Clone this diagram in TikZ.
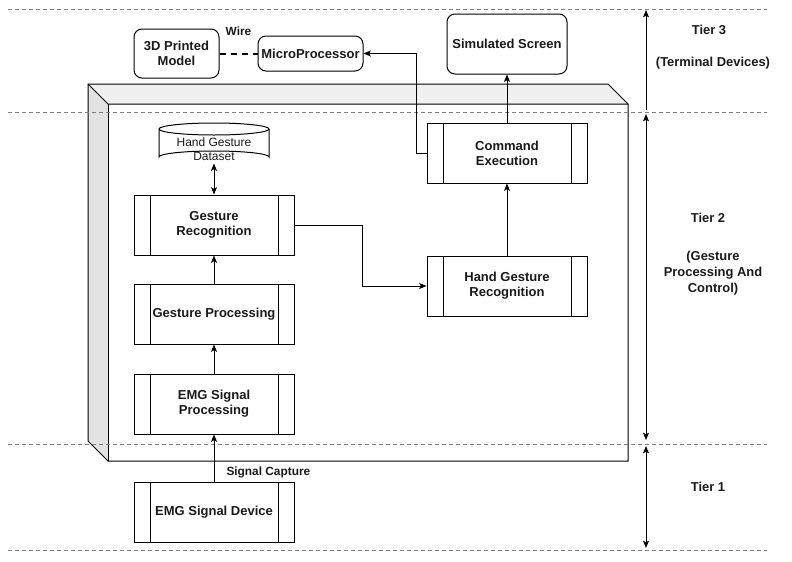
\documentclass[tikz,border=0pt]{standalone}
\usepackage{fontspec}
\setmainfont{Liberation Sans}
\usetikzlibrary{arrows.meta}
\definecolor{tierdash}{HTML}{7F7F7F}
\definecolor{cubetop}{HTML}{F0F0F0}
\definecolor{cubeside}{HTML}{E3E3E3}
\definecolor{txt}{HTML}{1A1A1A}
\begin{document}
\begin{tikzpicture}[x=0.75pt,y=-0.75pt,line width=0.75pt,
  conn/.style={-{Stealth[length=5.5pt,width=4.5pt,inset=1.2pt]}},
  biconn/.style={{Stealth[length=5.5pt,width=4.5pt,inset=1.2pt]}-{Stealth[length=5.5pt,width=4.5pt,inset=1.2pt]}},
  tierdashed/.style={draw=tierdash,line width=0.75pt,dash pattern=on 3pt off 2.25pt},
  procbox/.style={draw,fill=white,minimum width=120pt,minimum height=45pt,inner sep=0pt,
    align=center,text=txt,font=\bfseries\fontsize{9.75}{11.25}\selectfont,
    path picture={
      \draw ([xshift=12pt]path picture bounding box.north west) -- ([xshift=12pt]path picture bounding box.south west);
      \draw ([xshift=-12pt]path picture bounding box.north east) -- ([xshift=-12pt]path picture bounding box.south east);
    }},
  roundbox/.style={draw,fill=white,rounded corners=6pt,inner sep=0pt,align=center,
    text=txt,font=\bfseries\fontsize{9.75}{11.25}\selectfont},
  tierlabel/.style={align=center,text=txt,font=\bfseries\fontsize{9.7}{12}\selectfont},
  smalllabel/.style={text=txt,font=\bfseries\fontsize{8.9}{10}\selectfont,inner sep=0pt}
]
\useasboundingbox (0,0) rectangle (792,561);

% processing cube
\fill[cubeside] (88,84) -- (108,104) -- (108,461) -- (88,441) -- cycle;
\fill[cubetop] (88,84) -- (608,84) -- (628,104) -- (108,104) -- cycle;
\draw (88,84) -- (608,84) -- (628,104) -- (628,461) -- (108,461) -- (88,441) -- cycle;
\draw (88,84) -- (108,104) -- (628,104);
\draw (108,104) -- (108,461);

% tier separators
\draw[tierdashed] (8,9) -- (767,9);
\draw[tierdashed] (8,112) -- (767,112);
\draw[tierdashed] (8,444) -- (767,444);
\draw[tierdashed] (8,550) -- (767,550);

% tier 3 devices
\node[roundbox,minimum width=63.75pt,minimum height=36.75pt] (model) at (176.5,53.5) {3D Printed\\Model};
\node[roundbox,minimum width=78.75pt,minimum height=26.25pt] (micro) at (310.5,53.5) {MicroProcessor};
\node[roundbox,minimum width=90pt,minimum height=45pt] (screen) at (507,44) {Simulated Screen};

% tier 2 processing
\node[procbox] (grec) at (214,225) {Gesture\\Recognition};
\node[procbox] (gproc) at (214,314) {Gesture Processing};
\node[procbox] (emgproc) at (214,404) {EMG Signal\\Processing};
\node[procbox] (hgrec) at (507,286) {Hand Gesture\\Recognition};
\node[procbox] (cmd) at (507,153) {Command\\Execution};

% dataset cylinder
\node[minimum width=82.5pt,minimum height=30pt,inner sep=0pt] (db) at (214,143) {};
\draw[fill=white] (159,129) -- (159,157) arc[start angle=180,end angle=360,x radius=55,y radius=6] -- (269,129);
\draw[fill=white] (214,129) ellipse[x radius=55,y radius=6];
\node[align=center,text=txt,font=\fontsize{9}{10.5}\selectfont,inner sep=0pt] (dbtext) at (214,149) {Hand Gesture\\Dataset};

% tier 1 device
\node[procbox] (emgdev) at (214,512) {EMG Signal Device};

% connectors
\draw[conn] (emgdev.north) -- (emgproc.south);
\node[smalllabel,anchor=west] (capture) at (226,472) {Signal Capture};
\draw[conn] (emgproc.north) -- (gproc.south);
\draw[conn] (gproc.north) -- (grec.south);
\draw[biconn] (db.south) -- (grec.north);
\draw[conn] (grec.east) -- ++(68,0) |- (hgrec.west);
\draw[conn] (hgrec.north) -- (cmd.south);
\draw[conn] (cmd.north) -- (screen.south);
\draw[conn] (cmd.west) -- ++(-10,0) |- (micro.east);
\draw[line width=1.5pt,dash pattern=on 4.5pt off 3.75pt] (model.east) -- node[smalllabel,above=13pt] (wire) {Wire} (micro.west);

% tier extents
\coordinate (t3a) at (646,110);
\coordinate (t3b) at (646,10);
\coordinate (t2a) at (646,114);
\coordinate (t2b) at (646,440);
\coordinate (t1a) at (646,446);
\coordinate (t1b) at (646,548);
\draw[conn] (t3a) -- (t3b);
\draw[biconn] (t2a) -- (t2b);
\draw[biconn] (t1a) -- (t1b);

% tier labels
\node[tierlabel] (tier3) at (709,30) {Tier 3};
\node[tierlabel] (tier3d) at (713,63) {(Terminal Devices)};
\node[tierlabel] (tier2) at (708,218) {Tier 2};
\node[tierlabel] (tier2d) at (713,273) {(Gesture\\Processing And\\Control)};
\node[tierlabel] (tier1) at (708,487) {Tier 1};
\end{tikzpicture}
\end{document}
